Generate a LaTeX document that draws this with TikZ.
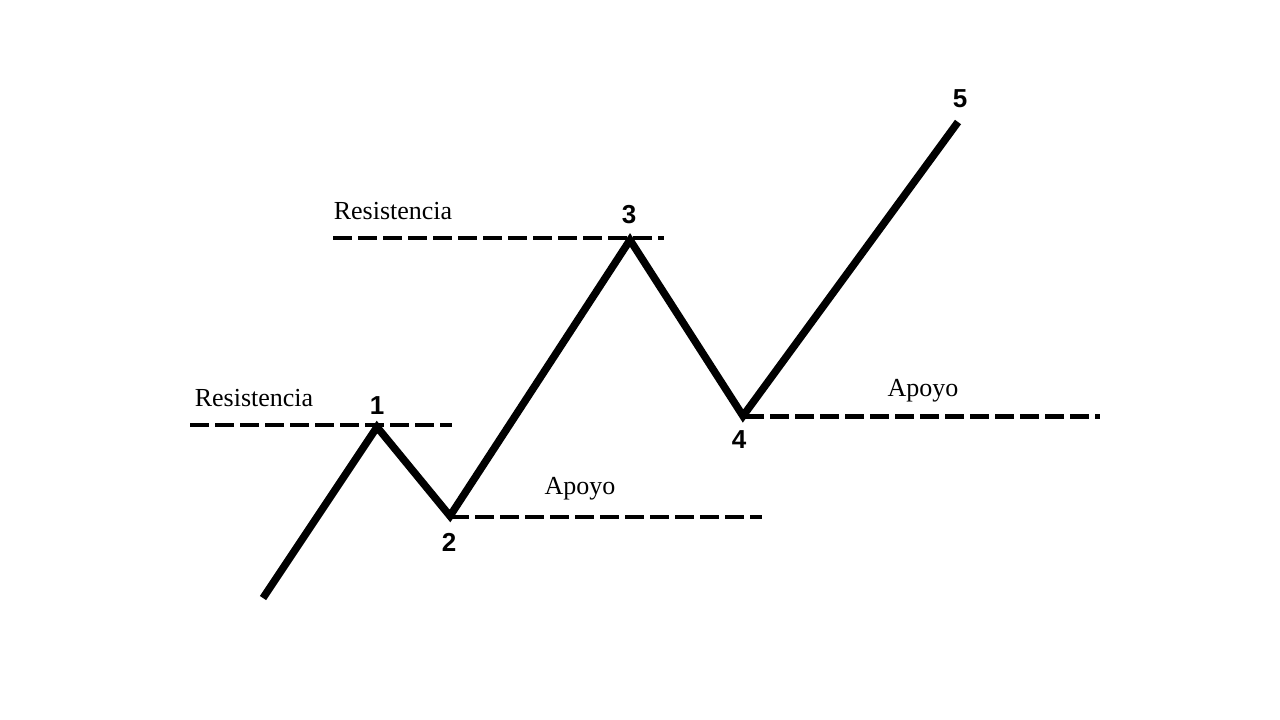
\documentclass[tikz,border=0pt]{standalone}
\usepackage{fontspec}
\setmainfont{Liberation Serif}
\newfontfamily\numfont{Liberation Sans}
\begin{document}
\begin{tikzpicture}[x=1pt,y=-1pt,
  trend/.style={line width=7.5pt,line join=miter,line cap=butt},
  level/.style={line width=4.2pt,dash pattern=on 19pt off 6pt},
  lbl/.style={font=\fontsize{26}{28}\selectfont,inner sep=0pt},
  num/.style={font=\numfont\bfseries\fontsize{26}{28}\selectfont,inner sep=0pt}]
\useasboundingbox (0,0) rectangle (1280,720);
\coordinate (s) at (263,598);
\coordinate (p1) at (377,427);
\coordinate (p2) at (450,516);
\coordinate (p3) at (630,240);
\coordinate (p4) at (743,416);
\coordinate (p5) at (958,122);
\coordinate (r1a) at (190,425);
\coordinate (r1b) at (452,425);
\coordinate (r2a) at (333,238);
\coordinate (r2b) at (664,238);
\coordinate (a1a) at (450,517);
\coordinate (a1b) at (762,517);
\coordinate (a2a) at (745,416.5);
\coordinate (a2b) at (1100,416.5);
\draw[level] (r1a) -- (r1b);
\draw[level] (r2a) -- (r2b);
\draw[level] (a1a) -- (a1b);
\draw[level] (a2a) -- (a2b);
\draw[trend] (s) -- (p1) -- (p2) -- (p3) -- (p4) -- (p5);
\node[lbl] (lr1) at (254,398) {Resistencia};
\node[lbl] (lr2) at (393,211) {Resistencia};
\node[lbl] (la1) at (580,489) {Apoyo};
\node[lbl] (la2) at (923,391) {Apoyo};
\node[num] (n1) at (377,406) {1};
\node[num] (n2) at (449,542) {2};
\node[num] (n3) at (629,215) {3};
\node[num] (n4) at (739,440) {4};
\node[num] (n5) at (960,99) {5};
\end{tikzpicture}
\end{document}
